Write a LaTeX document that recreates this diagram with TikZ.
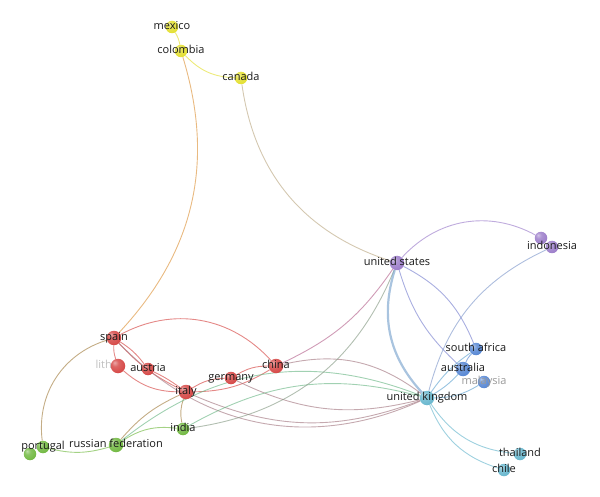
\documentclass[tikz,border=0pt]{standalone}
\usepackage{fontspec}
\setmainfont{Open Sans}
\usetikzlibrary{backgrounds}

% Cluster colours
\definecolor{cred}{RGB}{212,64,62}
\definecolor{cgreen}{RGB}{108,182,58}
\definecolor{cblue}{RGB}{80,130,210}
\definecolor{cyellow}{RGB}{226,222,40}
\definecolor{cpurple}{RGB}{152,120,200}
\definecolor{cteal}{RGB}{98,180,204}
\definecolor{ink}{RGB}{25,25,25}
\colorlet{dotcolor}{cred}

% Soft sphere look for the circles
\pgfdeclareradialshading[dotcolor]{softball}{\pgfqpoint{-12bp}{12bp}}{%
  color(0bp)=(dotcolor!45!white); color(12bp)=(dotcolor!80!white);
  color(38bp)=(dotcolor); color(62bp)=(dotcolor!72!black);
  color(75bp)=(dotcolor!72!black)}

\tikzset{
  dot/.style={circle, inner sep=0pt, minimum size=12.5pt, shading=softball},
  bigdot/.style={dot, minimum size=14.5pt},
  tint/.code={\colorlet{dotcolor}{#1}},
  tag/.style={font=\fontsize{11}{13}\selectfont, text=ink, inner sep=0pt, anchor=mid},
  link/.style={line width=0.9pt, opacity=0.62},
}

\begin{document}
\begin{tikzpicture}[x=1pt, y=-1pt]
        \useasboundingbox (0,0) rectangle (600,497);

        % Countries
        \node[dot, tint=cyellow] (mexico) at (172,27) {};
        \node[dot, tint=cyellow] (colombia) at (181,51) {};
        \node[dot, tint=cyellow] (canada) at (241,78) {};
        \node[bigdot, tint=cpurple] (us) at (397,263) {};
        \node[dot, tint=cpurple] (indonesia) at (541,238) {};
        \node[dot, tint=cpurple] (indonesia2) at (552,247) {};
        \node[dot, tint=cblue] (southafrica) at (476,349) {};
        \node[bigdot, tint=cblue] (australia) at (463,369) {};
        \node[dot, tint=cblue] (malaysia) at (484,382) {};
        \node[bigdot, tint=cteal] (uk) at (427,398) {};
        \node[dot, tint=cteal] (thailand) at (520,454) {};
        \node[dot, tint=cteal] (chile) at (504,470) {};
        \node[bigdot, tint=cred] (spain) at (114,338) {};
        \node[dot, tint=cred] (austria) at (148,369) {};
        \node[bigdot, tint=cred] (italy) at (186,392) {};
        \node[dot, tint=cred] (germany) at (231,378) {};
        \node[bigdot, tint=cred] (china) at (276,366) {};
        \node[dot, tint=cgreen] (india) at (183,429) {};
        \node[bigdot, tint=cgreen] (russia) at (116,445) {};
        \node[dot, tint=cgreen] (portugal2) at (30,454) {};
        \node[dot, tint=cgreen] (portugal) at (43,447) {};

        % Faded label, half hidden
        \begin{pgfonlayer}{background}
          \begin{scope}
            \clip (80,350) rectangle (116,385);
            \node[tag, text=black!25] (lithuania-t) at (118,366) {lithuania};
          \end{scope}
        \end{pgfonlayer}
        \node[bigdot, tint=cred] (lithuania) at (118,366) {};

        % Links
        \begin{pgfonlayer}{background}
          \draw[link, draw=cyellow] (mexico) to[bend left=10] (colombia);
          \draw[link, draw=cyellow] (colombia) to[bend right=22] (canada);
          \draw[link, draw=cyellow!50!cred] (colombia) to[bend left=30] (spain);
          \draw[link, draw=cyellow!45!cpurple] (canada) to[bend right=32] (us);

          \draw[link, draw=cred!50!cgreen] (spain) to[bend right=40] (portugal);
          \draw[link, draw=cred] (spain) to[bend left=38] (china);
          \draw[link, draw=cred] (spain) to[bend right=10] (lithuania);
          \draw[link, draw=cred] (spain) to[bend left=10] (austria);
          \draw[link, draw=cred] (spain) to[bend right=10] (italy);
          \draw[link, draw=cred] (lithuania) to[bend right=20] (italy);
          \draw[link, draw=cred] (austria) to[bend left=5] (italy);
          \draw[link, draw=cred] (italy) to[bend left=15] (germany);
          \draw[link, draw=cred] (italy) to[bend right=15] (china);
          \draw[link, draw=cred] (germany) to[bend left=15] (china);

          \draw[link, draw=cred!55!cteal] (spain) to[bend right=35] (uk);
          \draw[link, draw=cred!55!cteal] (italy) to[bend right=22] (uk);
          \draw[link, draw=cred!55!cteal] (germany) to[bend right=20] (uk);
          \draw[link, draw=cred!55!cteal] (china) to[bend left=25] (uk);

          \draw[link, draw=cred!50!cgreen] (russia) to[bend left=12] (italy);
          \draw[link, draw=cred!50!cgreen] (india) to[bend left=15] (italy);
          \draw[link, draw=cgreen] (portugal) to[bend right=15] (russia);
          \draw[link, draw=cgreen] (russia) to[bend left=20] (india);
          \draw[link, draw=cgreen!50!cteal] (russia) to[bend left=30] (uk);
          \draw[link, draw=cgreen!50!cteal] (india) to[bend left=22] (uk);

          \draw[link, draw=cpurple!55!cred] (us) to[bend left=15] (china);
          \draw[link, draw=cpurple!50!cgreen] (us) to[bend left=30] (india);
          \draw[link, draw=cpurple] (us) to[bend left=38] (indonesia);
          \draw[link, line width=2.2pt, draw=cpurple!35!cteal] (us) to[bend right=30] (uk);
          \draw[link, draw=cpurple!50!cblue] (us) to[bend right=15] (australia);
          \draw[link, draw=cpurple!50!cblue] (us) to[bend left=20] (southafrica);

          \draw[link, draw=cpurple!50!cteal] (indonesia2) to[bend right=25] (uk);
          \draw[link, draw=cteal!60!cblue] (uk) to[bend left=10] (southafrica);
          \draw[link, draw=cteal!60!cblue] (uk) to[bend right=8] (australia);
          \draw[link, draw=cteal!60!cblue] (uk) to[bend right=15] (malaysia);
          \draw[link, draw=cblue] (australia) to[bend left=10] (southafrica);
          \draw[link, draw=cteal] (uk) to[bend right=25] (thailand);
          \draw[link, draw=cteal] (uk) to[bend right=25] (chile);
        \end{pgfonlayer}

        % Labels
        \node[tag] (mexico-t) at (mexico) {mexico};
        \node[tag] (colombia-t) at (colombia) {colombia};
        \node[tag] (canada-t) at (canada) {canada};
        \node[tag] (us-t) at (us) {united states};
        \node[tag] (indonesia-t) at (indonesia2) {indonesia};
        \node[tag] (southafrica-t) at (southafrica) {south africa};
        \node[tag] (australia-t) at (australia) {australia};
        \node[tag, text=black!40] (malaysia-t) at (malaysia) {malaysia};
        \node[tag] (uk-t) at (uk) {united kingdom};
        \node[tag] (thailand-t) at (thailand) {thailand};
        \node[tag] (chile-t) at (chile) {chile};
        \node[tag] (spain-t) at (spain) {spain};
        \node[tag] (austria-t) at (austria) {austria};
        \node[tag] (italy-t) at (italy) {italy};
        \node[tag] (germany-t) at (germany) {germany};
        \node[tag] (china-t) at (china) {china};
        \node[tag] (india-t) at (india) {india};
        \node[tag] (russia-t) at (russia) {russian federation};
        \node[tag] (portugal-t) at (portugal) {portugal};
    \end{tikzpicture}
\end{document}
